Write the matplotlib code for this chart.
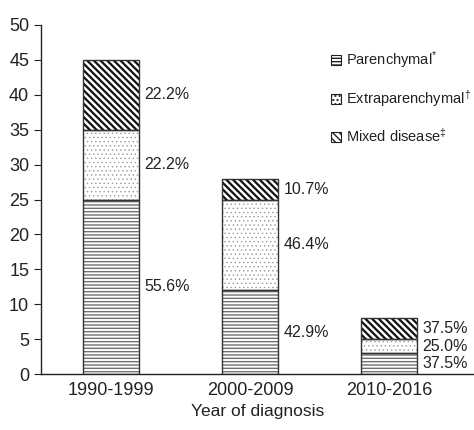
import matplotlib
matplotlib.use("Agg")
import matplotlib.pyplot as plt
import numpy as np

plt.rcParams['font.family'] = ['Liberation Sans', 'DejaVu Sans']
plt.rcParams['mathtext.fontset'] = 'custom'
plt.rcParams['mathtext.rm'] = 'Liberation Sans'
plt.rcParams['mathtext.it'] = 'Liberation Sans'

# data (number of patients per period)
periods = ["1990-1999", "2000-2009", "2010-2016"]
parenchymal = [25, 12, 3]
extraparenchymal = [10, 13, 2]
mixed = [10, 3, 3]
pct_par = ["55.6%", "42.9%", "37.5%"]
pct_extra = ["22.2%", "46.4%", "25.0%"]
pct_mixed = ["22.2%", "10.7%", "37.5%"]
legend_labels = [r"Parenchymal$^{*}$", "Extraparenchymal$^{\u2020}$", "Mixed disease$^{\u2021}$"]

fig = plt.figure(figsize=(4.74, 4.3), dpi=100)
ax = fig.add_axes([0.0865, 0.130, 0.9135, 0.812])

x = np.arange(len(periods))
w = 0.4
par = np.array(parenchymal)
ext = np.array(extraparenchymal)
mix = np.array(mixed)

def hatched(bottom, height, hatch, hcolor, lw, label):
    with plt.rc_context({'hatch.linewidth': lw}):
        bars = ax.bar(x, height, w, bottom=bottom, color='white', edgecolor=hcolor,
                      hatch=hatch, linewidth=0, label=label, zorder=2)
    for b in bars:
        if hasattr(b, 'set_hatch_linewidth'):
            b.set_hatch_linewidth(lw)
    # outline
    ax.bar(x, height, w, bottom=bottom, color='none', edgecolor='#333333',
           linewidth=1.0, zorder=3)
    return bars

b1 = hatched(0, par, '-----', '#707070', 1.0, legend_labels[0])
b2 = hatched(par, ext, '....', '#9a9a9a', 0.5, legend_labels[1])
b3 = hatched(par + ext, mix, '\\\\\\\\\\', '#111111', 1.6, legend_labels[2])

# percent labels at the middle of each segment
for i in range(len(periods)):
    xr = x[i] + w / 2 + 0.04
    ax.text(xr, par[i] / 2, pct_par[i], va='center', ha='left', fontsize=11.5, color='#222222')
    ax.text(xr, par[i] + ext[i] / 2, pct_extra[i], va='center', ha='left', fontsize=11.5, color='#222222')
    ax.text(xr, par[i] + ext[i] + mix[i] / 2, pct_mixed[i], va='center', ha='left', fontsize=11.5, color='#222222')

ax.set_xlim(-0.504, 2.61)
ax.set_ylim(0, 50)
ax.set_yticks(np.arange(0, 51, 5))
ax.set_xticks(x)
ax.set_xticklabels(periods)
ax.tick_params(axis='x', length=0, labelsize=13, pad=6, colors='#222222')
ax.tick_params(axis='y', direction='out', length=5, labelsize=13, colors='#222222')
ax.set_xlabel("Year of diagnosis", fontsize=12.5, color='#222222', labelpad=3)
for s in ['top', 'right']:
    ax.spines[s].set_visible(False)
for s in ['left', 'bottom']:
    ax.spines[s].set_color('#222222')
    ax.spines[s].set_linewidth(1.0)

leg = ax.legend(handles=[b1, b2, b3], loc='upper left', bbox_to_anchor=(0.67, 0.93),
                frameon=False, fontsize=10.5, handlelength=0.7, handleheight=0.7,
                handletextpad=0.35, labelspacing=1.2, borderaxespad=0, borderpad=0)
for p in leg.get_patches():
    p.set_edgecolor('#222222')
    p.set_linewidth(0.8)
for t in leg.get_texts():
    t.set_color('#222222')

fig.savefig("out.png", dpi=100)
